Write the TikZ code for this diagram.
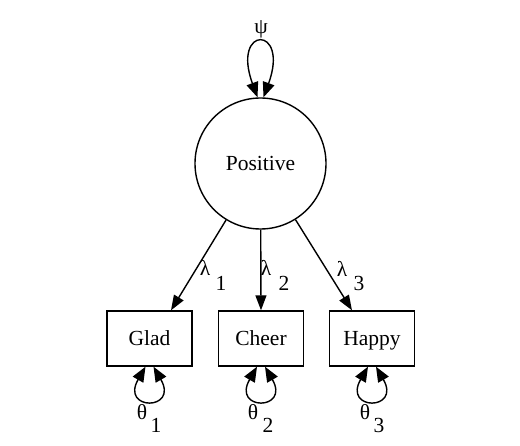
\documentclass[tikz,border=0pt]{standalone}
\usepackage{fontspec}
\setmainfont{Liberation Serif}
\usetikzlibrary{arrows.meta}
\begin{document}
\begin{tikzpicture}[x=1pt,y=-1pt,
  lw/.style={line width=1.4pt},
  obs/.style={draw,lw,minimum width=85pt,minimum height=55pt,inner sep=0pt,text height=14pt,text depth=0pt,font=\fontsize{21.5}{24}\selectfont},
  lat/.style={draw,lw,circle,minimum size=131pt,inner sep=0pt,font=\fontsize{21.5}{24}\selectfont},
  lbl/.style={inner sep=0pt,font=\fontsize{21.5}{24}\selectfont},
  edge/.style={lw,-{Triangle[length=15pt,width=11pt]}},
  loop/.style={lw,{Triangle[length=15pt,width=12pt]}-{Triangle[length=15pt,width=12pt]}}]
\useasboundingbox (0,0) rectangle (520,446);
\node[lat] (pos) at (260.5,163.5) {Positive};
\node[obs] (glad) at (149.5,338.5) {Glad};
\node[obs] (cheer) at (261,338.5) {Cheer};
\node[obs] (happy) at (372,338.5) {Happy};
% loadings
\draw[edge] (pos) -- ([xshift=21.5pt]glad.north);
\draw[edge] (pos) -- (cheer.north);
\draw[edge] (pos) -- ([xshift=-20pt]happy.north);
\node[lbl] (l1) at (205,268) {λ};
\node[lbl] (l1s) at (221,283) {1};
\node[lbl] (l2) at (266,268) {λ};
\node[lbl] (l2s) at (284,283) {2};
\node[lbl] (l3) at (342,269) {λ};
\node[lbl] (l3s) at (359,283) {3};
% latent variance
\draw[loop] ([xshift=-3pt]pos.north) .. controls (231,25) and (290,25) .. ([xshift=3pt]pos.north);
\node[lbl] (psi) at (261,29) {ψ};
% residual variances
\draw[loop] ([xshift=-4pt]glad.south) .. controls (120,411) and (179,411) .. ([xshift=4pt]glad.south);
\draw[loop] ([xshift=-4pt]cheer.south) .. controls (231.5,411) and (290.5,411) .. ([xshift=4pt]cheer.south);
\draw[loop] ([xshift=-4pt]happy.south) .. controls (342.5,411) and (401.5,411) .. ([xshift=4pt]happy.south);
\node[lbl] (t1) at (142,412) {θ};
\node[lbl] (t1s) at (156,425) {1};
\node[lbl] (t2) at (253,412) {θ};
\node[lbl] (t2s) at (268,425) {2};
\node[lbl] (t3) at (365,412) {θ};
\node[lbl] (t3s) at (379,425) {3};
\end{tikzpicture}
\end{document}
